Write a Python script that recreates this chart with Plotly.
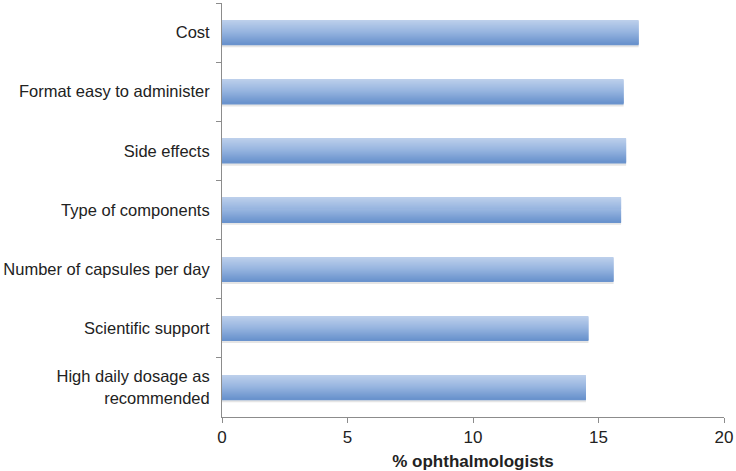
import plotly.graph_objects as go

categories = [
    "Cost",
    "Format easy to administer",
    "Side effects",
    "Type of components",
    "Number of capsules per day",
    "Scientific support",
    "High daily dosage as<br>recommended",
]
values = [16.6, 16.0, 16.1, 15.9, 15.6, 14.6, 14.5]
x_ticks = [0, 5, 10, 15, 20]

fig = go.Figure()

# vertical gradient simulated with thin strips
top_rgb = (188, 207, 235)
mid_rgb = (150, 180, 223)
bot_rgb = (106, 147, 205)
bar_w = 0.41
n = 24
strip = bar_w / n


def lerp(a, b, t):
    return tuple(int(round(a[k] + (b[k] - a[k]) * t)) for k in range(3))


# soft shadow under the bar
fig.add_trace(go.Bar(
    y=categories, x=values, orientation="h",
    width=0.06, offset=bar_w / 2 - 0.015,
    marker=dict(color="rgba(170,170,170,0.3)", line=dict(width=0)),
    hoverinfo="skip", showlegend=False,
))

for i in range(n):
    t = i / (n - 1)
    if t < 0.5:
        c = lerp(top_rgb, mid_rgb, t / 0.5)
    else:
        c = lerp(mid_rgb, bot_rgb, (t - 0.5) / 0.5)
    fig.add_trace(go.Bar(
        y=categories, x=values, orientation="h",
        width=strip * 1.6, offset=-bar_w / 2 + i * strip,
        marker=dict(color="rgb(%d,%d,%d)" % c, line=dict(width=0)),
        hoverinfo="skip", showlegend=False,
    ))

fig.update_layout(
    width=736, height=471,
    margin=dict(l=221, r=11, t=3, b=54),
    barmode="overlay",
    plot_bgcolor="white", paper_bgcolor="white",
    font=dict(family="Liberation Sans, Arial, sans-serif", color="#222222", size=16),
    xaxis=dict(
        range=[0, 20], tickvals=x_ticks, showgrid=False, zeroline=False,
        showline=True, linecolor="#8c8c8c", linewidth=1,
        ticks="outside", ticklen=5, tickcolor="#8c8c8c",
        tickfont=dict(size=17),
        title=dict(text="<b>% ophthalmologists</b>", font=dict(size=17), standoff=9),
    ),
    yaxis=dict(
        categoryorder="array", categoryarray=categories, autorange="reversed",
        showgrid=False, zeroline=False,
        showline=True, linecolor="#8c8c8c", linewidth=1,
        ticks="outside", ticklen=5, tickcolor="#8c8c8c", tickson="boundaries",
        tickfont=dict(size=16.5), ticklabelstandoff=8,
    ),
)

fig.write_html("out.html", config={"displayModeBar": False},
               post_script="document.body.style.margin='0';")
